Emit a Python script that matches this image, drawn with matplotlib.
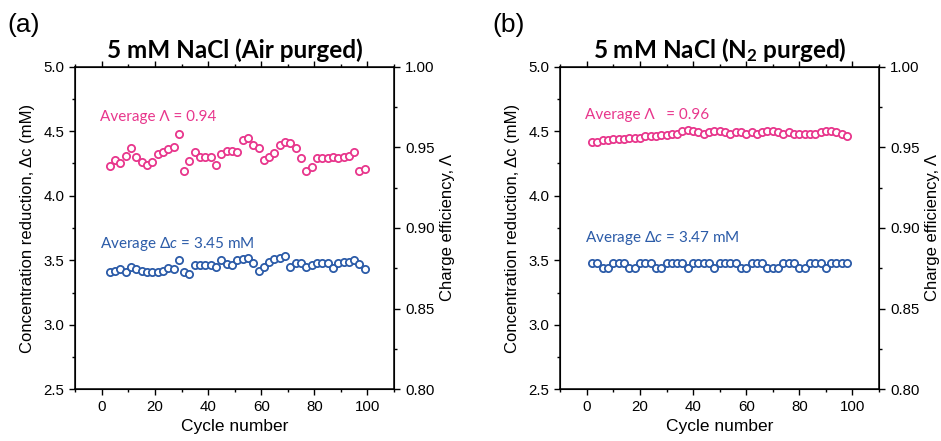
import numpy as np
import matplotlib
matplotlib.use("Agg")
import matplotlib.pyplot as plt

plt.rcParams['font.family'] = ['Liberation Sans', 'DejaVu Sans']
plt.rcParams['mathtext.fontset'] = 'custom'
plt.rcParams['mathtext.rm'] = 'Lato'
plt.rcParams['mathtext.it'] = 'Lato:italic'
plt.rcParams['mathtext.bf'] = 'Lato:bold'

# data
cycles_a = list(range(3, 100, 2))
cycles_b = list(range(2, 99, 2))

lam_a = [4.23, 4.28, 4.25, 4.31, 4.37, 4.30, 4.26, 4.24, 4.26, 4.32,
         4.34, 4.36, 4.38, 4.48, 4.19, 4.27, 4.34, 4.30, 4.30, 4.30,
         4.24, 4.32, 4.35, 4.35, 4.34, 4.43, 4.45, 4.39, 4.37, 4.28,
         4.30, 4.33, 4.39, 4.42, 4.41, 4.37, 4.29, 4.19, 4.22, 4.29,
         4.29, 4.29, 4.30, 4.29, 4.30, 4.31, 4.34, 4.19, 4.21]
dc_a = [3.41, 3.42, 3.43, 3.41, 3.45, 3.43, 3.42, 3.41, 3.41, 3.41,
        3.42, 3.44, 3.43, 3.50, 3.41, 3.39, 3.46, 3.46, 3.46, 3.46,
        3.45, 3.50, 3.47, 3.46, 3.50, 3.51, 3.52, 3.48, 3.42, 3.45,
        3.49, 3.51, 3.52, 3.53, 3.45, 3.48, 3.48, 3.45, 3.46, 3.48,
        3.48, 3.48, 3.44, 3.48, 3.49, 3.49, 3.50, 3.47, 3.43]

lam_b = [4.42, 4.42, 4.43, 4.43, 4.44, 4.44, 4.44, 4.45, 4.45, 4.45,
         4.46, 4.46, 4.46, 4.47, 4.47, 4.48, 4.48, 4.50, 4.51, 4.50,
         4.49, 4.48, 4.49, 4.50, 4.50, 4.49, 4.48, 4.49, 4.49, 4.48,
         4.49, 4.48, 4.49, 4.50, 4.50, 4.49, 4.48, 4.49, 4.48, 4.48,
         4.48, 4.48, 4.48, 4.49, 4.50, 4.50, 4.49, 4.48, 4.46]
# upper / lower pattern of the blue points in (b)
dc_b = [3.48, 3.48, 3.44, 3.44, 3.48, 3.48, 3.48, 3.44, 3.44, 3.48,
        3.48, 3.48, 3.44, 3.44, 3.48, 3.48, 3.48, 3.48, 3.44, 3.48,
        3.48, 3.48, 3.48, 3.44, 3.48, 3.48, 3.48, 3.48, 3.44, 3.44,
        3.48, 3.48, 3.48, 3.44, 3.44, 3.44, 3.48, 3.48, 3.48, 3.44,
        3.44, 3.48, 3.48, 3.48, 3.44, 3.48, 3.48, 3.48, 3.48]

pink = '#E8368C'
blue = '#2B5BA8'

panels = [
    ('(a)', r'5 mM NaCl (Air purged)', cycles_a, lam_a, dc_a,
     'Average Λ = 0.94', r'Average Δ$\it{c}$ = 3.45 mM', 0.080, (4.61, 3.625)),
    ('(b)', r'5 mM NaCl (N$_\mathbf{2}$ purged)', cycles_b, lam_b, dc_b,
     'Average Λ   = 0.96', r'Average Δ$\it{c}$ = 3.47 mM', 0.5954, (4.625, 3.67)),
]

fig = plt.figure(figsize=(9.41, 4.41), dpi=100)

for tag, title, cyc, lam, dc, txt_l, txt_c, left, ypos in panels:
    ax = fig.add_axes([left, 0.1172, 0.3387, 0.7316])
    ax.plot(cyc, lam, 'o', mfc='white', mec=pink, ms=5.2, mew=1.3, ls='none')
    ax.plot(cyc, dc, 'o', mfc='white', mec=blue, ms=5.2, mew=1.3, ls='none')
    ax.set_xlim(-10, 110)
    ax.set_ylim(2.5, 5.0)
    ax.set_xticks([0, 20, 40, 60, 80, 100])
    ax.set_xticks(np.arange(-10, 111, 10), minor=True)
    ax.set_yticks(np.arange(2.5, 5.01, 0.5))
    ax.set_yticks(np.arange(2.5, 5.01, 0.25), minor=True)
    ax.yaxis.set_major_formatter(matplotlib.ticker.FormatStrFormatter('%.1f'))
    ax.tick_params(which='both', direction='out', top=True, labelsize=10.8, width=1)
    ax.tick_params(which='major', length=4.5)
    ax.tick_params(which='minor', length=2.5)
    for s in ax.spines.values():
        s.set_linewidth(1.1)
    ax.set_xlabel('Cycle number', fontsize=12.5, labelpad=3)
    ax.set_ylabel('Concentration reduction, Δc (mM)', fontsize=12, labelpad=6)

    ax2 = ax.twinx()
    ax2.set_ylim(0.80, 1.00)
    ax2.set_yticks(np.arange(0.80, 1.001, 0.05))
    ax2.set_yticks(np.arange(0.80, 1.001, 0.025), minor=True)
    ax2.yaxis.set_major_formatter(matplotlib.ticker.FormatStrFormatter('%.2f'))
    ax2.tick_params(which='both', direction='out', labelsize=10.8, width=1)
    ax2.tick_params(which='major', length=4.5)
    ax2.tick_params(which='minor', length=2.5)
    ax2.set_ylabel('Charge efficiency, Λ', fontsize=12, labelpad=4)

    ax.text(-0.75, ypos[0], txt_l, color=pink, fontsize=11, family='Lato',
            va='center')
    ax.text(-0.75, ypos[1], txt_c, color=blue, fontsize=11, family='Lato',
            va='center')
    ax.set_title(title, fontsize=17.5, fontweight='bold', family='Lato', pad=6)
    fig.text(left - 0.072, 0.943, tag, fontsize=19, va='center')

fig.savefig('out.png', dpi=100)
